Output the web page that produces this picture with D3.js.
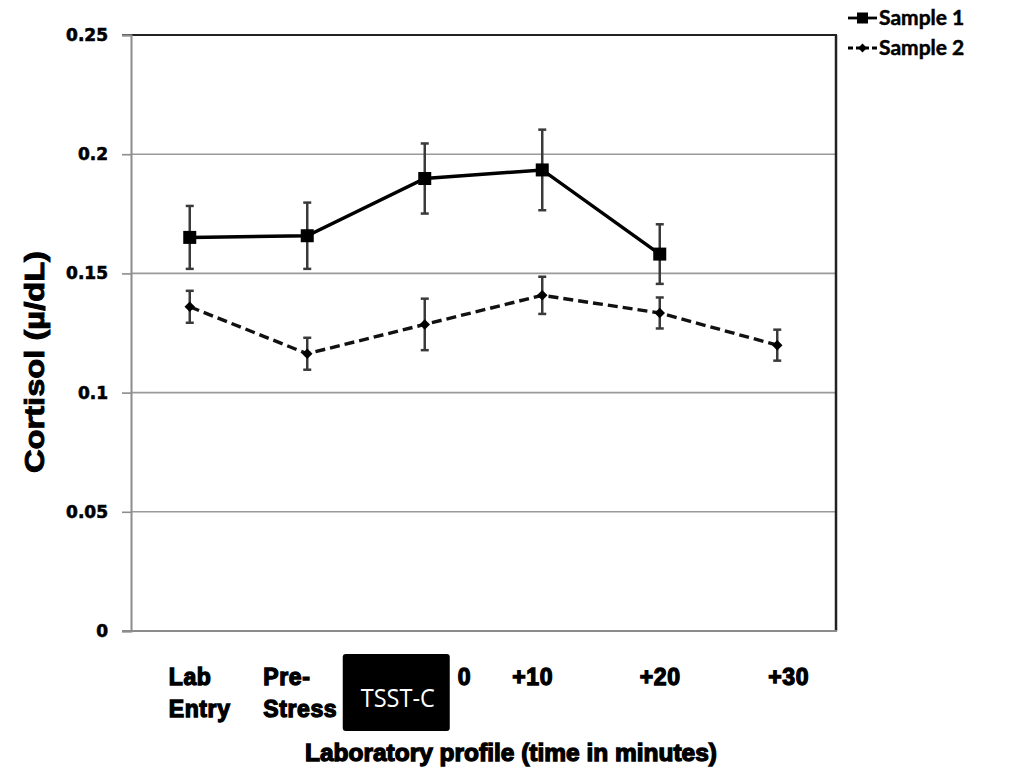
<!DOCTYPE html>
<html>
<head>
<meta charset="utf-8">
<script src="https://cdn.jsdelivr.net/npm/d3@7/dist/d3.min.js"></script>
<style>
  html, body { margin: 0; padding: 0; background: #fff; }
  svg { display: block; }
</style>
</head>
<body>
<svg id="chart" width="1019" height="775"></svg>
<script>
// Cortisol laboratory profile, two samples, mean ± error
const categories = ["Lab Entry", "Pre-Stress", "0", "+10", "+20", "+30"];
const sample1 = [0.1651, 0.1658, 0.1898, 0.1934, 0.1581, null];
const sample1Err = [0.0132, 0.0139, 0.0147, 0.0169, 0.0125, null];
const sample2 = [0.1360, 0.1163, 0.1286, 0.1408, 0.1334, 0.1199];
const sample2Err = [0.0067, 0.0067, 0.0108, 0.0078, 0.0065, 0.0065];
const yTicks = [0, 0.05, 0.1, 0.15, 0.2, 0.25];
const tickLabelLines = [["Lab", "Entry"], ["Pre-", "Stress"], ["0"], ["+10"], ["+20"], ["+30"]];
const seriesNames = ["Sample 1", "Sample 2"];

// layout
const plot = { left: 131, right: 836, top: 35, bottom: 631 };
// hand-placed label anchors (left edge, relative to category centre)
const labelDx = [-21, -44, 33, -30, -20, -9];

const svg = d3.select("#chart");

const x = d3.scalePoint()
  .domain(categories)
  .range([plot.left, plot.right])
  .padding(0.5);

const y = d3.scaleLinear()
  .domain([0, 0.25])
  .range([plot.bottom, plot.top]);

// horizontal gridlines
svg.append("g")
  .selectAll("line")
  .data(yTicks.filter(t => t > 0 && t < 0.25))
  .join("line")
  .attr("x1", plot.left).attr("x2", plot.right)
  .attr("y1", d => y(d)).attr("y2", d => y(d))
  .attr("stroke", "#9a9a9a").attr("stroke-width", 1.6);

// top and right frame of the plot area
svg.append("line")
  .attr("x1", plot.left - 9).attr("x2", plot.right + 1)
  .attr("y1", y(0.25)).attr("y2", y(0.25))
  .attr("stroke", "#222").attr("stroke-width", 2);
svg.append("line")
  .attr("x1", plot.right).attr("x2", plot.right)
  .attr("y1", plot.top).attr("y2", plot.bottom)
  .attr("stroke", "#222").attr("stroke-width", 2.5);

// bottom axis line
svg.append("line")
  .attr("x1", plot.left - 9).attr("x2", plot.right + 1)
  .attr("y1", plot.bottom).attr("y2", plot.bottom)
  .attr("stroke", "#8c8c8c").attr("stroke-width", 2);

// y axis
const yAxis = d3.axisLeft(y)
  .tickValues(yTicks)
  .tickSize(9)
  .tickPadding(14)
  .tickFormat(d => d === 0 ? "0" : String(+d.toFixed(2)));

const gy = svg.append("g")
  .attr("transform", `translate(${plot.left},0)`)
  .call(yAxis);
gy.select(".domain").attr("stroke", "#8c8c8c").attr("stroke-width", 2);
gy.selectAll(".tick line").attr("stroke", "#8c8c8c").attr("stroke-width", 1.6);
gy.selectAll(".tick text")
  .attr("font-family", "DejaVu Sans")
  .attr("font-weight", "bold")
  .attr("font-size", 17)
  .attr("fill", "#000")
  .attr("stroke", "#000")
  .attr("stroke-width", 0.6);

// error bars
function drawErrors(vals, errs, capW) {
  const pts = vals.map((v, i) => ({ c: categories[i], v, e: errs[i] })).filter(d => d.v != null);
  const g = svg.append("g").attr("stroke", "#3a3a3a").attr("stroke-width", 2.5);
  g.selectAll("line.bar").data(pts).join("line")
    .attr("x1", d => x(d.c)).attr("x2", d => x(d.c))
    .attr("y1", d => y(d.v + d.e)).attr("y2", d => y(d.v - d.e));
  g.selectAll("line.top").data(pts).join("line")
    .attr("x1", d => x(d.c) - capW / 2).attr("x2", d => x(d.c) + capW / 2)
    .attr("y1", d => y(d.v + d.e)).attr("y2", d => y(d.v + d.e));
  g.selectAll("line.bot").data(pts).join("line")
    .attr("x1", d => x(d.c) - capW / 2).attr("x2", d => x(d.c) + capW / 2)
    .attr("y1", d => y(d.v - d.e)).attr("y2", d => y(d.v - d.e));
}
drawErrors(sample1, sample1Err, 8);
drawErrors(sample2, sample2Err, 8);

const line = d3.line()
  .defined(d => d.v != null)
  .x(d => x(d.c))
  .y(d => y(d.v));

const s1 = sample1.map((v, i) => ({ c: categories[i], v }));
const s2 = sample2.map((v, i) => ({ c: categories[i], v }));

// Sample 2: dashed line with diamonds
svg.append("path")
  .datum(s2)
  .attr("d", line)
  .attr("fill", "none")
  .attr("stroke", "#111")
  .attr("stroke-width", 3.4)
  .attr("stroke-dasharray", "10,5");
svg.append("g").selectAll("path")
  .data(s2.filter(d => d.v != null))
  .join("path")
  .attr("d", d3.symbol(d3.symbolDiamond2, 70))
  .attr("transform", d => `translate(${x(d.c)},${y(d.v)})`)
  .attr("fill", "#000");

// Sample 1: solid line with squares
svg.append("path")
  .datum(s1)
  .attr("d", line)
  .attr("fill", "none")
  .attr("stroke", "#000")
  .attr("stroke-width", 3.5);
svg.append("g").selectAll("rect")
  .data(s1.filter(d => d.v != null))
  .join("rect")
  .attr("x", d => x(d.c) - 6.5).attr("y", d => y(d.v) - 6.5)
  .attr("width", 13).attr("height", 13)
  .attr("fill", "#000");

// category labels
const labelFont = "'Liberation Sans', Arial, sans-serif";
const xl = svg.append("g")
  .attr("font-family", labelFont)
  .attr("font-weight", "bold")
  .attr("font-size", 23)
  .attr("letter-spacing", 0.6)
  .attr("fill", "#000")
  .attr("stroke", "#000")
  .attr("stroke-width", 1.3);
categories.forEach((c, i) => {
  const t = xl.append("text")
    .attr("x", x(c) + labelDx[i])
    .attr("y", 685);
  tickLabelLines[i].forEach((ln, j) => {
    t.append("tspan")
      .attr("x", x(c) + labelDx[i])
      .attr("dy", j === 0 ? 0 : 32)
      .text(ln);
  });
});

// stress-task marker box between Pre-Stress and 0
const boxX0 = x(categories[1]) + 35.5;
svg.append("rect")
  .attr("x", boxX0).attr("y", 654)
  .attr("width", 107).attr("height", 77)
  .attr("rx", 3)
  .attr("fill", "#000");
svg.append("text")
  .attr("x", boxX0 + 55).attr("y", 707)
  .attr("text-anchor", "middle")
  .attr("font-family", "'Open Sans', sans-serif")
  .attr("font-size", 25)
  .attr("textLength", 74)
  .attr("lengthAdjust", "spacingAndGlyphs")
  .attr("fill", "#fff")
  .text("TSST-C");

// axis titles
svg.append("text")
  .attr("x", 305)
  .attr("y", 761)
  .attr("font-family", labelFont)
  .attr("font-weight", "bold")
  .attr("font-size", 24)
  .attr("textLength", 412)
  .attr("lengthAdjust", "spacingAndGlyphs")
  .attr("stroke", "#000").attr("stroke-width", 1.3)
  .text("Laboratory profile (time in minutes)");

svg.append("text")
  .attr("transform", `translate(44,362) rotate(-90)`)
  .attr("text-anchor", "middle")
  .attr("font-family", labelFont)
  .attr("font-weight", "bold")
  .attr("font-size", 27)
  .attr("textLength", 222)
  .attr("lengthAdjust", "spacingAndGlyphs")
  .attr("stroke", "#000").attr("stroke-width", 0.9)
  .text("Cortisol (µ/dL)");

// legend
const legend = svg.append("g").attr("transform", "translate(848,18)");
seriesNames.forEach((name, i) => {
  const g = legend.append("g").attr("transform", `translate(0,${i * 30})`);
  g.append("line")
    .attr("x1", 0).attr("x2", 29).attr("y1", 0).attr("y2", 0)
    .attr("stroke", "#000").attr("stroke-width", 2.8)
    .attr("stroke-dasharray", i === 0 ? null : "5,3");
  if (i === 0) {
    g.append("rect").attr("x", 9).attr("y", -5.5).attr("width", 11).attr("height", 11).attr("fill", "#000");
  } else {
    g.append("path").attr("d", d3.symbol(d3.symbolDiamond2, 50)).attr("transform", "translate(14.5,0)").attr("fill", "#000");
  }
  g.append("text")
    .attr("x", 31).attr("y", 7)
    .attr("font-family", "Lato, sans-serif")
    .attr("font-weight", "bold")
    .attr("font-size", 21)
    .attr("stroke", "#000").attr("stroke-width", 0.5)
    .text(name);
});
</script>
</body>
</html>
